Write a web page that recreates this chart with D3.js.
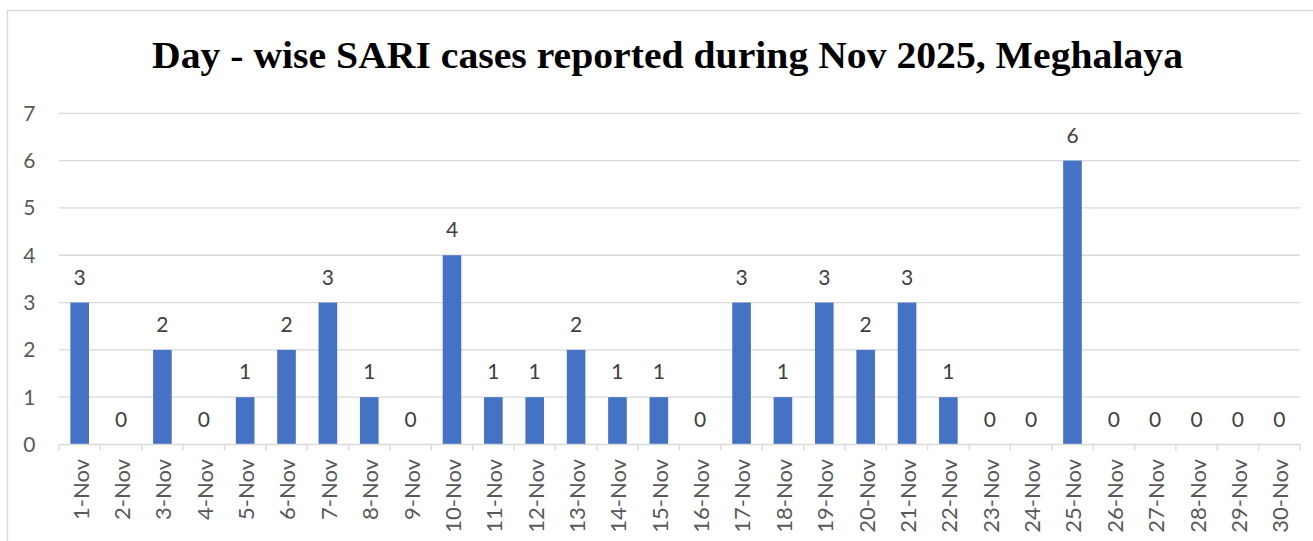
<!DOCTYPE html>
<html><head><meta charset="utf-8">
<script src="https://cdn.jsdelivr.net/npm/d3@7"></script>
<style>body{margin:0;background:#fff}svg{display:block}</style>
</head><body>
<script>
const title = "Day - wise SARI cases reported during Nov 2025, Meghalaya";
const days = ["1-Nov","2-Nov","3-Nov","4-Nov","5-Nov","6-Nov","7-Nov","8-Nov","9-Nov","10-Nov","11-Nov","12-Nov","13-Nov","14-Nov","15-Nov","16-Nov","17-Nov","18-Nov","19-Nov","20-Nov","21-Nov","22-Nov","23-Nov","24-Nov","25-Nov","26-Nov","27-Nov","28-Nov","29-Nov","30-Nov"];
const cases = [3,0,2,0,1,2,3,1,0,4,1,1,2,1,1,0,3,1,3,2,3,1,0,0,6,0,0,0,0,0];
const yTicks = [0,1,2,3,4,5,6,7];

(function(){
const W = 1313, H = 541;
const pL = 59, pR = 1300, pT = 113.3, pB = 444.5;
const font = "Lato, 'Liberation Sans', sans-serif";

const svg = d3.select("body").append("svg").attr("width", W).attr("height", H);
svg.append("rect").attr("x", 7.5).attr("y", 10.5).attr("width", 1330).attr("height", 560)
  .attr("fill", "#fff").attr("stroke", "#d9d9d9").attr("stroke-width", 1.3);

const x = d3.scaleBand().domain(days).range([pL, pR]).paddingInner(0.55).paddingOuter(0.275);
const xb = d3.scaleBand().domain(days).range([pL, pR]);
const y = d3.scaleLinear().domain([0, 7]).range([pB, pT]);

svg.append("g").selectAll("line").data(yTicks.filter(d => d > 0)).join("line")
  .attr("x1", pL).attr("x2", pR).attr("y1", d => y(d)).attr("y2", d => y(d))
  .attr("stroke", "#d9d9d9").attr("stroke-width", 1.3);

svg.append("g").selectAll("text").data(yTicks).join("text")
  .attr("x", 35.5).attr("y", d => y(d)).attr("dy", "0.36em").attr("text-anchor", "end")
  .attr("font-family", font).attr("font-size", 21).attr("fill", "#595959").text(d => d);

svg.append("g").selectAll("rect").data(days).join("rect")
  .attr("x", d => x(d)).attr("width", x.bandwidth())
  .attr("y", (d, i) => y(cases[i])).attr("height", (d, i) => y(0) - y(cases[i]))
  .attr("fill", "#4472C4");

svg.append("line").attr("x1", pL).attr("x2", pR).attr("y1", pB).attr("y2", pB)
  .attr("stroke", "#d9d9d9").attr("stroke-width", 1.3);
const tickPos = days.map(d => xb(d)).concat([pR]);
svg.append("g").selectAll("line").data(tickPos).join("line")
  .attr("x1", d => d).attr("x2", d => d).attr("y1", pB).attr("y2", pB + 6)
  .attr("stroke", "#d9d9d9").attr("stroke-width", 1.3);

svg.append("g").selectAll("text").data(days).join("text")
  .attr("transform", d => `translate(${xb(d) + xb.bandwidth()/2 + 1},459) rotate(-90)`)
  .attr("dy", "0.36em").attr("text-anchor", "end")
  .attr("font-family", font).attr("font-size", 22).attr("fill", "#595959").text(d => d);

svg.append("g").selectAll("text").data(days).join("text")
  .attr("x", d => xb(d) + xb.bandwidth()/2).attr("y", (d, i) => y(cases[i]) - 18)
  .attr("text-anchor", "middle")
  .attr("font-family", font).attr("font-size", 21).attr("fill", "#404040").text((d, i) => cases[i]);

svg.append("text").attr("x", 667.5).attr("y", 68).attr("text-anchor", "middle")
  .attr("font-family", "'Liberation Serif', serif").attr("font-weight", "bold").attr("font-size", 38)
  .attr("textLength", 1031).attr("lengthAdjust", "spacingAndGlyphs")
  .attr("fill", "#000").text(title);
})();
</script>
</body></html>
